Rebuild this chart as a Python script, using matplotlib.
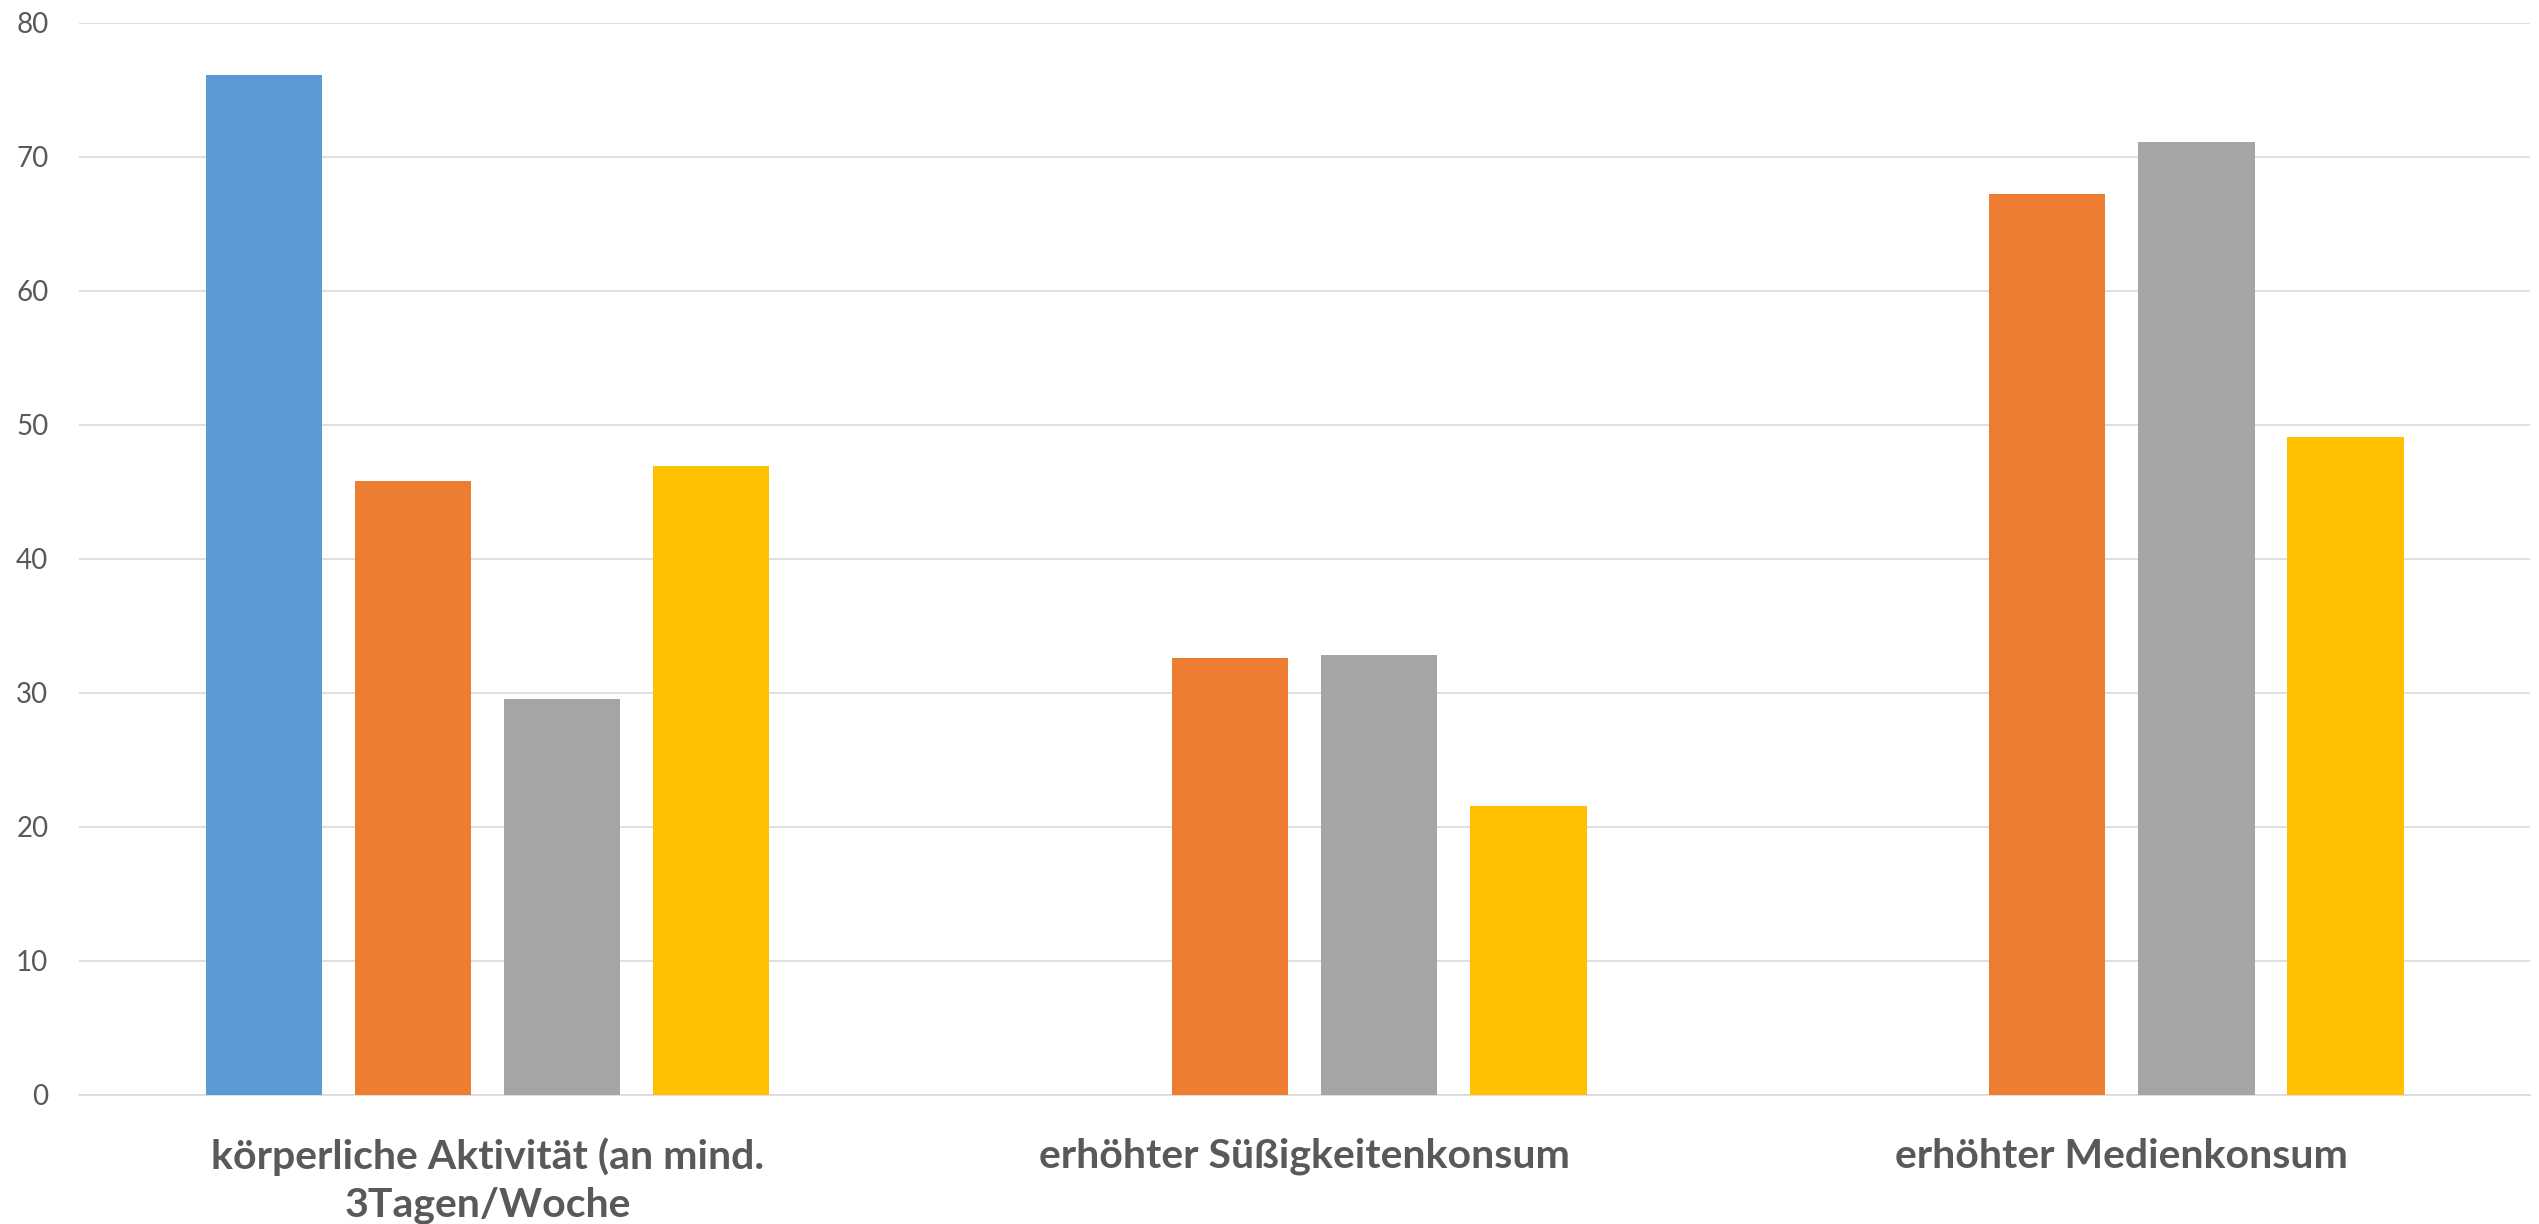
import numpy as np
import matplotlib
matplotlib.use("Agg")
import matplotlib.pyplot as plt

# values
categories = [
    "körperliche Aktivität (an mind.\n3Tagen/Woche",
    "erhöhter Süßigkeitenkonsum",
    "erhöhter Medienkonsum",
]
series_blue = [76.1, np.nan, np.nan]
series_orange = [45.8, 32.6, 67.2]
series_gray = [29.5, 32.8, 71.1]
series_yellow = [46.9, 21.5, 49.1]
y_ticks = [0, 10, 20, 30, 40, 50, 60, 70, 80]

COLORS = ["#5B9BD5", "#ED7D31", "#A5A5A5", "#FFC000"]
TEXT = "#595959"
GRID = "#D9D9D9"

plt.rcParams["font.family"] = ["Lato", "DejaVu Sans"]

fig = plt.figure(figsize=(25.39, 12.24), dpi=100)
ax = fig.add_axes([0.0311, 0.1058, 0.9654, 0.8757])

x = np.arange(len(categories))
slot = 0.1824
width = 0.143
all_series = [series_blue, series_orange, series_gray, series_yellow]
for i, (vals, col) in enumerate(zip(all_series, COLORS)):
    ax.bar(x + (i - 1.5) * slot, vals, width=width, color=col, zorder=3)

ax.set_xlim(-0.5, len(categories) - 0.5)
ax.set_ylim(0, 80)
ax.set_yticks(y_ticks)
ax.set_yticklabels([str(t) for t in y_ticks], fontsize=20, color=TEXT)
ax.set_xticks(x)
ax.set_xticklabels(categories, fontsize=29.5, fontweight="bold", color=TEXT,
                   linespacing=1.35)
ax.tick_params(axis="y", length=0, pad=22)
ax.tick_params(axis="x", length=0, pad=31)

ax.grid(True, axis="y", color=GRID, linewidth=1.2, zorder=0)
for s in ("top", "right", "left"):
    ax.spines[s].set_visible(False)
ax.spines["bottom"].set_color(GRID)
ax.spines["bottom"].set_linewidth(1.2)

fig.savefig("out.png", dpi=100, facecolor="white")
